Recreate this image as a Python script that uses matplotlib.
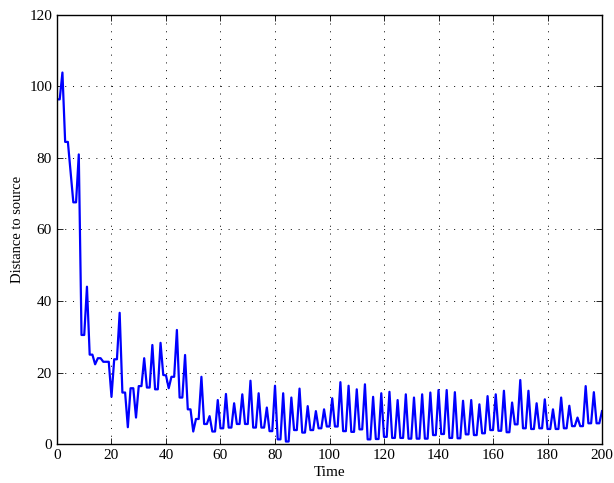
import matplotlib
matplotlib.use("Agg")
import matplotlib.pyplot as plt
import numpy as np

# distance to source, one value per time step (t = 0..200)
distance = [
    96.4, 96.4, 103.9, 84.5, 84.5, 76.0, 67.6, 67.6, 81.0, 30.5,
    30.5, 44.0, 25.0, 25.0, 22.3, 24.0, 24.0, 23.0, 23.0, 23.0,
    13.2, 23.7, 23.7, 36.7, 14.4, 14.4, 4.7, 15.6, 15.6, 7.4,
    16.2, 16.2, 24.0, 15.8, 15.8, 27.7, 15.3, 15.3, 28.3, 19.3,
    19.2, 15.6, 18.8, 18.8, 31.9, 13.0, 13.0, 24.9, 9.7, 9.7,
    3.5, 7.0, 7.0, 18.8, 5.6, 5.6, 7.8, 3.5, 3.5, 12.3,
    4.4, 4.4, 14.0, 4.6, 4.6, 11.4, 5.6, 5.6, 13.9, 5.6,
    5.6, 17.7, 4.6, 4.6, 14.2, 4.6, 4.6, 10.2, 3.6, 3.6,
    16.3, 1.3, 1.3, 14.2, 0.7, 0.7, 13.0, 3.9, 3.9, 15.5,
    3.2, 3.2, 10.6, 3.9, 3.9, 9.2, 4.4, 4.4, 9.7, 4.9,
    4.9, 12.8, 4.9, 4.9, 17.3, 3.6, 3.6, 16.3, 3.4, 3.4,
    15.3, 4.1, 4.1, 16.7, 1.3, 1.3, 13.2, 1.4, 1.4, 14.2,
    2.0, 2.0, 14.6, 1.7, 1.7, 12.3, 1.7, 1.7, 13.9, 1.5,
    1.5, 13.0, 1.5, 1.5, 13.9, 1.5, 1.5, 14.4, 2.5, 2.5,
    15.1, 2.8, 2.8, 15.1, 1.7, 1.7, 14.5, 1.6, 1.6, 12.1,
    2.7, 2.7, 12.3, 2.5, 2.5, 11.1, 3.0, 3.0, 13.4, 3.9,
    3.9, 13.9, 3.7, 3.7, 14.9, 3.3, 3.3, 11.6, 5.5, 5.5,
    17.9, 4.4, 4.4, 14.9, 4.2, 4.2, 11.4, 4.4, 4.4, 12.5,
    4.2, 4.2, 9.7, 4.2, 4.2, 13.0, 4.4, 4.4, 10.7, 5.0,
    5.0, 7.4, 5.0, 5.0, 16.2, 5.8, 5.8, 14.5, 5.8, 5.8,
    9.2,
]
time = np.arange(len(distance))

x_ticks = list(range(0, 201, 20))
y_ticks = list(range(0, 121, 20))

plt.rcParams["font.family"] = ["Liberation Serif", "DejaVu Serif"]

fig = plt.figure(figsize=(6.14, 4.83), dpi=100)
ax = fig.add_axes([0.0928, 0.0807, 0.8877, 0.8883])

ax.plot(time, distance, color="#0000ff", linewidth=1.6)

ax.set_xlim(0, 200)
ax.set_ylim(0, 120)
ax.set_xticks(x_ticks)
ax.set_yticks(y_ticks)
ax.tick_params(direction="in", top=True, right=True, labelsize=11, length=4, width=0.6)
ax.grid(True, linestyle=(0, (1, 7)), color="black", linewidth=0.7)
for s in ax.spines.values():
    s.set_linewidth(1.0)

ax.set_xlabel("Time", fontsize=11, labelpad=3)
ax.set_ylabel("Distance to source", fontsize=10.5, labelpad=4)

fig.savefig("out.png", dpi=100)
